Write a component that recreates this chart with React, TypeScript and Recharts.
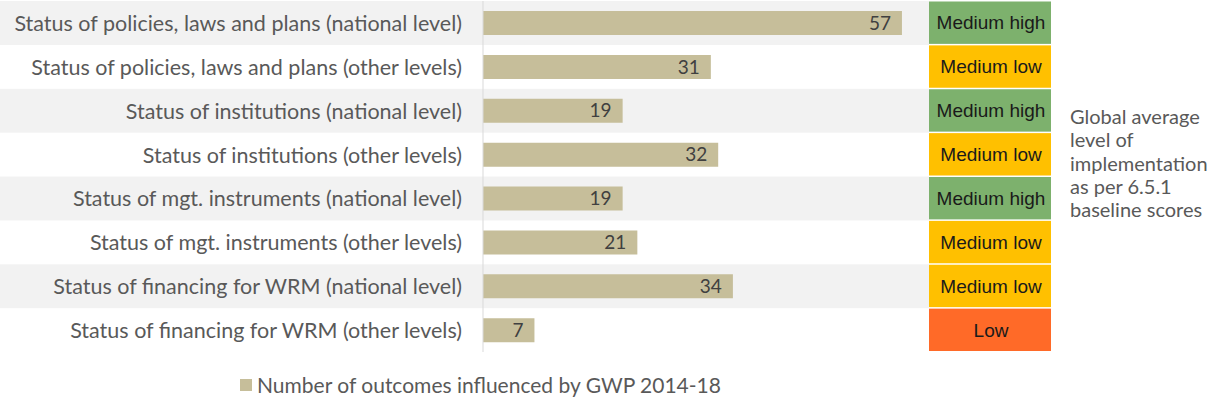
import React from 'react';
import { BarChart, Bar, XAxis, YAxis, LabelList } from 'recharts';

const categories = [
  'Status of policies, laws and plans (national level)',
  'Status of policies, laws and plans (other levels)',
  'Status of institutions (national level)',
  'Status of institutions (other levels)',
  'Status of mgt. instruments (national level)',
  'Status of mgt. instruments (other levels)',
  'Status of financing for WRM (national level)',
  'Status of financing for WRM (other levels)',
];
const outcomes = [57, 31, 19, 32, 19, 21, 34, 7];
const levels = ['Medium high', 'Medium low', 'Medium high', 'Medium low', 'Medium high', 'Medium low', 'Medium low', 'Low'];
const levelColors: Record<string, string> = {
  'Medium high': '#7db16d',
  'Medium low': '#ffc000',
  Low: '#ff6a28',
};
const seriesName = 'Number of outcomes influenced by GWP 2014-18';
const sideNote = ['Global average', 'level of', 'implementation', 'as per 6.5.1', 'baseline scores'];

const data = categories.map((name, i) => ({ name, outcomes: outcomes[i], level: levels[i] }));

const W = 1207;
const H = 403;
const TOP = 1;
const BOTTOM = 352;
const ROW = (BOTTOM - TOP) / categories.length;
const BAR_COLOR = '#c6be9a';
const FONT = 'Lato, "Open Sans", sans-serif';

// grey zebra band behind every other row, spanning labels + plot
const RowBand = (props: any) => {
  const { y, height, index } = props;
  if (index % 2 !== 0) return <g />;
  const cy = y + height / 2;
  return <rect x={0} y={cy - ROW / 2} width={929} height={ROW} fill="#f2f2f2" />;
};

const RowTick = (props: any) => {
  const { y, index, payload } = props;
  const level = levels[index];
  return (
    <g>
      <text x={462} y={y} textAnchor="end" dominantBaseline="central" fontSize={21.5} fill="#595959" fontFamily={FONT}>
        {payload.value}
      </text>
      <rect x={929} y={y - ROW / 2 + 0.5} width={122} height={ROW - 1.5} fill={levelColors[level]} />
      <text
        x={991}
        y={y}
        textAnchor="middle"
        dominantBaseline="central"
        fontSize={19}
        fill="#1a1a1a"
        fontFamily='"Liberation Sans", Arial, sans-serif'
      >
        {level}
      </text>
    </g>
  );
};

export default function App() {
  return (
    <div style={{ position: 'absolute', left: 0, top: 0, width: W, height: H, background: '#fff', fontFamily: FONT }}>
      <BarChart
        width={W}
        height={H}
        data={data}
        layout="vertical"
        margin={{ top: TOP, right: 283, bottom: H - BOTTOM, left: 0 }}
      >
        <XAxis type="number" domain={[0, 60]} hide />
        <YAxis
          type="category"
          dataKey="name"
          width={483}
          axisLine={{ stroke: '#d9d9d9' }}
          tickLine={false}
          tick={<RowTick />}
          interval={0}
        />
        <Bar dataKey="outcomes" fill={BAR_COLOR} barSize={24} background={<RowBand />} isAnimationActive={false}>
          <LabelList dataKey="outcomes" position="insideRight" offset={11} fill="#404040" fontSize={19} fontFamily={FONT} />
        </Bar>
      </BarChart>
      <div
        style={{
          position: 'absolute',
          left: 1070,
          top: 105,
          width: 137,
          fontSize: 20,
          lineHeight: '23.3px',
          color: '#595959',
          whiteSpace: 'nowrap',
        }}
      >
        {sideNote.map((t) => (
          <div key={t}>{t}</div>
        ))}
      </div>
      <div
        style={{
          position: 'absolute',
          left: 240,
          top: 372,
          display: 'flex',
          alignItems: 'center',
          fontSize: 21,
          color: '#595959',
          whiteSpace: 'nowrap',
        }}
      >
        <span style={{ display: 'inline-block', width: 12, height: 12, background: BAR_COLOR, marginRight: 5 }} />
        {seriesName}
      </div>
    </div>
  );
}
